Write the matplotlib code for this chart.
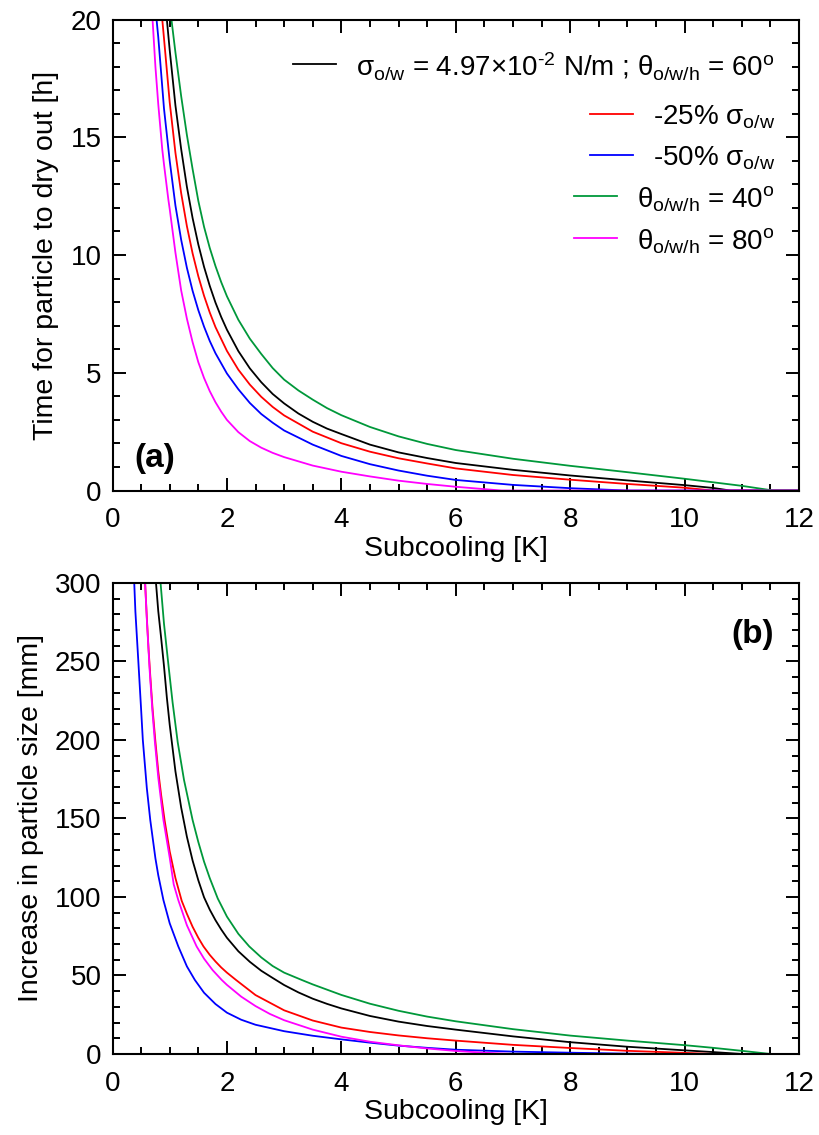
import matplotlib
matplotlib.use("Agg")
import matplotlib.pyplot as plt
from matplotlib.ticker import MultipleLocator

plt.rcParams['font.family'] = ['Liberation Sans', 'DejaVu Sans']
plt.rcParams['mathtext.fontset'] = 'custom'
plt.rcParams['mathtext.rm'] = 'Liberation Sans'
plt.rcParams['mathtext.it'] = 'Liberation Sans'
plt.rcParams['mathtext.bf'] = 'Liberation Sans:bold'

# ---------------- data: panel (a) time to dry out [h] ----------------
black_x_a = [0.95, 1.0, 1.1, 1.2, 1.3, 1.4, 1.5, 1.6, 1.7, 1.8, 1.9, 2.0, 2.2, 2.4, 2.6, 2.8, 3.0,
             3.25, 3.5, 3.75, 4.0, 4.5, 5.0, 5.5, 6.0, 7.0, 8.0, 9.0, 10.0, 10.5, 10.8, 12.0]
black_y_a = [20, 18.7, 16.35, 14.5, 12.9, 11.57, 10.45, 9.5, 8.69, 7.98, 7.37, 6.83, 5.92, 5.19, 4.6,
             4.1, 3.7, 3.27, 2.92, 2.63, 2.4, 1.95, 1.62, 1.38, 1.17, 0.88, 0.64, 0.43, 0.23, 0.11, 0.0, 0.0]

red_x_a = [0.87, 0.9, 1.0, 1.1, 1.2, 1.3, 1.4, 1.5, 1.6, 1.7, 1.8, 2.0, 2.2, 2.4, 2.6, 2.8, 3.0,
           3.5, 4.0, 4.5, 5.0, 5.5, 6.0, 7.0, 8.0, 9.0, 10.0, 10.5, 12.0]
red_y_a = [20, 19.2, 16.48, 14.34, 12.63, 11.23, 10.07, 9.1, 8.27, 7.56, 6.94, 5.93, 5.13, 4.5, 3.98,
           3.55, 3.19, 2.5, 2.01, 1.65, 1.37, 1.15, 0.94, 0.66, 0.46, 0.28, 0.12, 0.0, 0.0]

blue_x_a = [0.77, 0.8, 0.9, 1.0, 1.1, 1.2, 1.3, 1.4, 1.5, 1.6, 1.7, 1.8, 2.0, 2.2, 2.4, 2.6, 2.8,
            3.0, 3.5, 4.0, 4.5, 5.0, 5.5, 6.0, 7.0, 8.0, 9.0, 12.0]
blue_y_a = [20, 19.25, 16.22, 14.0, 12.1, 10.65, 9.46, 8.48, 7.66, 6.96, 6.35, 5.83, 4.97, 4.3, 3.72,
            3.25, 2.88, 2.55, 1.95, 1.47, 1.12, 0.85, 0.63, 0.45, 0.24, 0.1, 0.0, 0.0]

green_x_a = [1.03, 1.1, 1.2, 1.3, 1.4, 1.5, 1.6, 1.7, 1.8, 1.9, 2.0, 2.2, 2.4, 2.6, 2.8, 3.0, 3.25,
             3.5, 3.75, 4.0, 4.5, 5.0, 5.5, 6.0, 7.0, 8.0, 9.0, 10.0, 11.0, 11.55, 12.0]
green_y_a = [20, 18.6, 16.75, 15.1, 13.65, 12.3, 11.2, 10.3, 9.53, 8.85, 8.25, 7.25, 6.45, 5.8, 5.2,
             4.71, 4.25, 3.86, 3.5, 3.2, 2.7, 2.3, 1.98, 1.72, 1.35, 1.05, 0.78, 0.5, 0.2, 0.0, 0.0]

magenta_x_a = [0.70, 0.75, 0.8, 0.87, 0.9, 0.976, 1.0, 1.1, 1.2, 1.3, 1.4, 1.5, 1.6, 1.7, 1.8, 1.9,
               2.0, 2.2, 2.4, 2.6, 2.8, 3.0, 3.5, 4.0, 4.5, 5.0, 5.5, 6.0, 6.5, 6.8, 12.0]
magenta_y_a = [20, 18.0, 16.4, 14.48, 13.85, 12.36, 11.95, 10.1, 8.5, 7.3, 6.3, 5.45, 4.78, 4.22,
               3.75, 3.35, 3.0, 2.48, 2.1, 1.82, 1.6, 1.42, 1.06, 0.8, 0.6, 0.42, 0.28, 0.16, 0.06,
               0.0, 0.0]

# ---------------- data: panel (b) increase in particle size [mm] ----------------
black_x_b = [0.76, 0.8, 0.85, 0.9, 0.95, 1.0, 1.1, 1.2, 1.3, 1.4, 1.5, 1.6, 1.7, 1.8, 1.9, 2.0,
             2.2, 2.4, 2.6, 2.8, 3.0, 3.25, 3.5, 3.75, 4.0, 4.5, 5.0, 5.5, 6.0, 7.0, 8.0, 9.0,
             10.0, 10.5, 11.0, 12.0]
black_y_b = [300, 282, 265, 247, 227, 209.6, 180, 157, 138.4, 123.2, 110.6, 99.8, 91.9, 85.2, 79.3,
             74.0, 65.4, 58.7, 53.0, 48.4, 43.9, 39.2, 35.2, 31.9, 29.0, 24.2, 20.6, 17.8, 15.5,
             11.2, 7.5, 4.6, 2.3, 1.2, 0.0, 0.0]

red_x_b = [0.57, 0.6, 0.63, 0.66, 0.7, 0.75, 0.8, 0.85, 0.91, 1.0, 1.1, 1.21, 1.3, 1.4, 1.5, 1.59,
           1.7, 1.8, 1.9, 2.0, 2.16, 2.5, 3.0, 3.5, 4.0, 4.5, 5.0, 5.5, 6.0, 7.0, 8.0, 9.0, 10.0,
           10.5, 12.0]
red_y_b = [300, 278, 258, 241, 220, 199, 180, 165, 149, 129, 112, 97.5, 89.3, 81, 74, 68.5, 63.1,
           58.9, 55.1, 51.8, 47.1, 37.5, 27.8, 21.3, 16.8, 14.0, 11.8, 10.0, 8.5, 5.8, 3.8, 2.0,
           0.7, 0.0, 0.0]

blue_x_b = [0.38, 0.4, 0.45, 0.5, 0.53, 0.6, 0.66, 0.75, 0.8, 0.89, 1.0, 1.15, 1.3, 1.44, 1.6, 1.8,
            2.0, 2.25, 2.5, 3.0, 3.5, 4.0, 4.5, 5.0, 5.5, 6.0, 7.0, 8.0, 9.0, 9.5, 12.0]
blue_y_b = [300, 281.8, 251, 219.5, 200, 169.3, 149, 124.6, 113.8, 98, 83.2, 68.5, 55.8, 47.1, 39,
            31.8, 26.3, 21.8, 18.6, 14.5, 11.6, 9.3, 7.2, 5.3, 3.9, 2.7, 1.5, 0.8, 0.2, 0.0, 0.0]

green_x_b = [0.84, 0.9, 0.98, 1.05, 1.14, 1.25, 1.4, 1.5, 1.6, 1.7, 1.84, 2.0, 2.2, 2.39, 2.6, 2.8,
             3.0, 3.31, 3.5, 4.0, 4.5, 5.0, 5.5, 6.0, 7.0, 8.0, 9.0, 10.0, 10.5, 11.0, 11.5, 12.0]
green_y_b = [300, 274, 247, 224, 198.5, 174.5, 149, 135, 122.5, 112, 99, 87.5, 76.5, 68.5, 61.5,
             56, 51.8, 47.1, 44.3, 37.6, 32, 27.5, 23.8, 20.8, 15.8, 11.7, 8.5, 5.6, 3.9, 2.0,
             0.0, 0.0]

magenta_x_b = [0.57, 0.6, 0.65, 0.7, 0.74, 0.8, 0.89, 1.0, 1.07, 1.15, 1.3, 1.47, 1.6, 1.75, 1.91,
               2.0, 2.25, 2.5, 2.75, 3.0, 3.5, 4.0, 4.5, 5.0, 5.5, 6.0, 6.5, 7.0, 12.0]
magenta_y_b = [300, 276.8, 244, 217.3, 199, 176, 149, 125, 108, 98, 82, 68.5, 60.7, 53.4, 47.1,
               44, 36.5, 30.5, 25.5, 21.5, 15.5, 11, 7.8, 5.5, 3.5, 1.9, 0.8, 0.0, 0.0]

legend_labels = [
    r"σ$_{\mathregular{o/w}}$ = 4.97×10$^{\mathregular{\text{-}2}}$ N/m ; θ$_{\mathregular{o/w/h}}$ = 60$^{\mathregular{o}}$",
    r"-25% σ$_{\mathregular{o/w}}$",
    r"-50% σ$_{\mathregular{o/w}}$",
    r"θ$_{\mathregular{o/w/h}}$ = 40$^{\mathregular{o}}$",
    r"θ$_{\mathregular{o/w/h}}$ = 80$^{\mathregular{o}}$",
]

colors = {'black': '#000000', 'red': '#ff0000', 'blue': '#0000ff',
          'green': '#00983a', 'magenta': '#ff00ff'}

fig = plt.figure(figsize=(8.2, 11.35), dpi=100)
ax_a = fig.add_axes([0.1372, 0.5678, 0.8372, 0.415])
ax_b = fig.add_axes([0.1372, 0.0714, 0.8372, 0.415])

LW = 1.3
series_a = [('black', black_x_a, black_y_a), ('red', red_x_a, red_y_a),
            ('blue', blue_x_a, blue_y_a), ('green', green_x_a, green_y_a),
            ('magenta', magenta_x_a, magenta_y_a)]
series_b = [('black', black_x_b, black_y_b), ('red', red_x_b, red_y_b),
            ('blue', blue_x_b, blue_y_b), ('green', green_x_b, green_y_b),
            ('magenta', magenta_x_b, magenta_y_b)]

for name, xs, ys in series_a:
    ax_a.plot(xs, ys, color=colors[name], lw=LW)
for name, xs, ys in series_b:
    ax_b.plot(xs, ys, color=colors[name], lw=LW)

for ax in (ax_a, ax_b):
    ax.set_xlim(0, 12)
    ax.xaxis.set_major_locator(MultipleLocator(2))
    ax.xaxis.set_minor_locator(MultipleLocator(0.5))
    ax.tick_params(which='both', direction='in', top=True, right=True, width=1.4)
    ax.tick_params(which='major', length=9.5, labelsize=20)
    ax.tick_params(which='minor', length=5.2)
    ax.tick_params(axis='x', which='major', pad=12)
    ax.tick_params(axis='y', which='major', pad=8)
    for s in ax.spines.values():
        s.set_linewidth(1.5)
    ax.set_xlabel('Subcooling [K]', fontsize=20.5, labelpad=2)

ax_a.set_ylim(0, 20)
ax_a.yaxis.set_major_locator(MultipleLocator(5))
ax_a.yaxis.set_minor_locator(MultipleLocator(1))
ax_a.set_ylabel('Time for particle to dry out [h]', fontsize=20.5, labelpad=8)

ax_b.set_ylim(0, 300)
ax_b.yaxis.set_major_locator(MultipleLocator(50))
ax_b.yaxis.set_minor_locator(MultipleLocator(10))
ax_b.set_ylabel('Increase in particle size [mm]', fontsize=20.5, labelpad=8)

ax_a.text(0.062, 0.069, '(a)', transform=ax_a.transAxes, fontsize=24,
          fontweight='bold', ha='center', va='center')
ax_b.text(0.932, 0.89, '(b)', transform=ax_b.transAxes, fontsize=24,
          fontweight='bold', ha='center', va='center')

# legend: rows right aligned, line handle just before text
row_y = [0.9055, 0.7998, 0.7123, 0.6253, 0.5366]
leg_colors = ['black', 'red', 'blue', 'green', 'magenta']
texts = []
for lab, yy in zip(legend_labels, row_y):
    t = ax_a.text(0.965, yy, lab, transform=ax_a.transAxes, fontsize=20,
                  ha='right', va='center_baseline')
    texts.append(t)
fig.canvas.draw()
renderer = fig.canvas.get_renderer()
inv = ax_a.transAxes.inverted()
for t, yy, cname in zip(texts, row_y, leg_colors):
    bb = t.get_window_extent(renderer)
    x_end_disp = bb.x0 - 20
    x_start_disp = x_end_disp - 43
    x0 = inv.transform((x_start_disp, 0))[0]
    x1 = inv.transform((x_end_disp, 0))[0]
    ax_a.plot([x0, x1], [yy, yy], transform=ax_a.transAxes, color=colors[cname],
              lw=LW, clip_on=False)

fig.savefig('out.png', dpi=100)
